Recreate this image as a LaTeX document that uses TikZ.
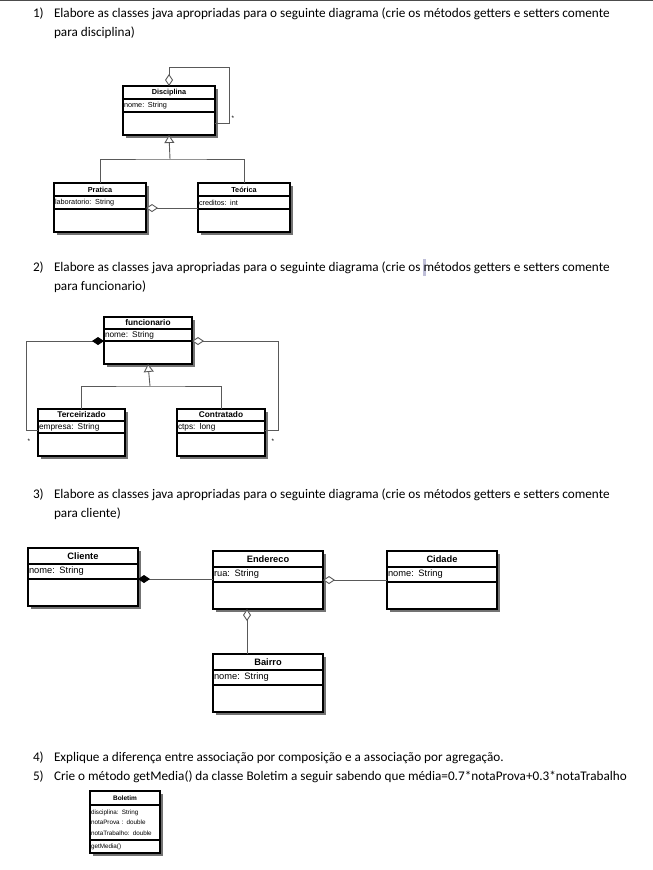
\documentclass[tikz,border=0pt]{standalone}
\usepackage{fontspec}
\setmainfont{Carlito}
\newfontfamily\umlfont{Liberation Sans}
\usetikzlibrary{arrows.meta,backgrounds}

\begin{document}
\begin{tikzpicture}[x=1pt,y=-1pt,
    every node/.style={inner sep=0pt,outer sep=0pt},
    txt/.style={anchor=base west,font=\fontsize{13.2}{19}\selectfont},
    clsbox/.style={draw,line width=1.3pt,fill=white,anchor=north west},
    hd/.style={clsbox,font=\umlfont\bfseries\fontsize{#1}{#1}\selectfont},
    attr/.style={clsbox,align=left,inner xsep=1pt,font=\umlfont\fontsize{#1}{#1}\selectfont},
    link/.style={draw=black!65,line width=0.9pt},
    agg/.style={link,{Diamond[fill=white,length=12pt,width=8pt]}-},
    comp/.style={link,{Diamond[color=black,fill=black,length=12pt,width=8pt]}-},
    inh/.style={link,-{Triangle[open,fill=white,length=8pt,width=10pt]}},
    mult/.style={font=\umlfont\fontsize{6.5}{6.5}\selectfont}]
    \useasboundingbox (0,0) rectangle (653,870);
    \draw[black!70,line width=1.5pt] (0,0.5) -- (653,0.5);
    \fill[blue!25!gray!40] (423,259) rectangle (426,276);
    \foreach \k/\y/\t in {1/17/{Elabore as classes java apropriadas para o seguinte diagrama (crie os métodos getters e setters comente},2/271/{Elabore as classes java apropriadas para o seguinte diagrama (crie os métodos getters e setters comente},3/498/{Elabore as classes java apropriadas para o seguinte diagrama (crie os métodos getters e setters comente},4/761/{Explique a diferença entre associação por composição e a associação por agregação.},5/780/{Crie o método getMedia() da classe Boletim a seguir sabendo que média=0.7*notaProva+0.3*notaTrabalho}}{
        \node[txt] (n\k) at (33,\y) {\k)};
        \node[txt] (q\k) at (54,\y) {\t};
    }
    \foreach \k/\t in {1/{para disciplina)},2/{para funcionario)},3/{para cliente)}}
        \node[txt] (r\k) at ([yshift=-19]q\k.base west) {\t};

    \foreach \n/\x/\y/\t/\a in {disc/123/86/Disciplina/nome: String,prat/54/183/Pratica/laboratorio: String,teor/198/183/Teórica/creditos: int}{
        \node[hd=7.3,minimum width=92,minimum height=13] (\n) at (\x,\y) {\t};
        \node[attr=7.3,text width=90,minimum height=13] (\n-a) at (\n.south west) {\a};
        \node[clsbox,minimum width=92,minimum height=23] (\n-m) at (\n-a.south west) {};
    }
    \coordinate (l1) at (229,67);
    \coordinate (j1) at (170,159);
    \draw[agg] (disc.north) |- (l1) |- (disc-m.east);
    \node[mult] (s1) at (233,118) {*};
    \draw[inh] (j1) -- (disc-m.south);
    \draw[link] (prat.north) |- (j1) -| (teor.north);
    \draw[agg] ([yshift=1]prat-a.south east) -- ([yshift=1]teor-a.south west);

    \foreach \n/\x/\y/\w/\t/\a in {func/104/317/88/funcionario/nome: String,terc/38/409/87/Terceirizado/empresa: String,cont/177/409/88/Contratado/ctps: long}{
        \node[hd=8.3,minimum width=\w,minimum height=12] (\n) at (\x,\y) {\t};
        \node[attr=8.3,text width=\w-2,minimum height=12] (\n-a) at (\n.south west) {\a};
        \node[clsbox,minimum width=\w,minimum height=23] (\n-m) at (\n-a.south west) {};
    }
    \coordinate (j2) at (150,386);
    \draw[comp] (func-a.south west) -| ([xshift=-12,yshift=3]terc-a.south west) -- ([yshift=3]terc-a.south west);
    \draw[agg] (func-a.south east) -| ([xshift=13,yshift=3]cont-a.south east) -- ([yshift=3]cont-a.south east);
    \node[mult] (s2) at (29,441) {*};
    \node[mult] (s3) at (273,441) {*};
    \draw[inh] (j2) -- (func-m.south);
    \draw[link] (terc.north) |- (j2) -| (cont.north);

    \foreach \n/\x/\y/\t/\a in {cli/28/548/Cliente/nome: String,end/213/551/Endereco/rua: String,cid/387/551/Cidade/nome: String,bai/213/654/Bairro/nome: String}{
        \node[hd=9.3,minimum width=110,minimum height=16] (\n) at (\x,\y) {\t};
        \node[attr=9.3,text width=108,minimum height=15] (\n-a) at (\n.south west) {\a};
        \node[clsbox,minimum width=110,minimum height=27] (\n-m) at (\n-a.south west) {};
    }
    \draw[comp] (cli-a.south east) -- (cli-a.south east -| end.west);
    \draw[agg] ([yshift=2]end-a.south east) -- ([yshift=2]end-a.south east -| cid.west);
    \draw[agg] ([xshift=-21]end-m.south) -- ([xshift=-21]bai.north);

    \node[hd=6.5,minimum width=70,minimum height=14] (bol) at (90,791) {Boletim};
    \node[attr=6.3,text width=68,minimum height=35,font=\umlfont\fontsize{6.3}{10.3}\selectfont] (bol-a) at (bol.south west) {disciplina: String\\notaProva : double\\notaTrabalho: double};
    \node[attr=6.3,text width=68,minimum height=13] (bol-m) at (bol-a.south west) {getMedia()};

    \begin{scope}[on background layer]
        \fill[white] (0,0) rectangle (653,870);
        \foreach \n in {disc,prat,teor,func,terc,cont,cli,end,cid,bai,bol}
            \fill[black!55] ([shift={(3,3)}]\n.north west) rectangle ([shift={(3,3)}]\n-m.south east);
    \end{scope}
\end{tikzpicture}
\end{document}
